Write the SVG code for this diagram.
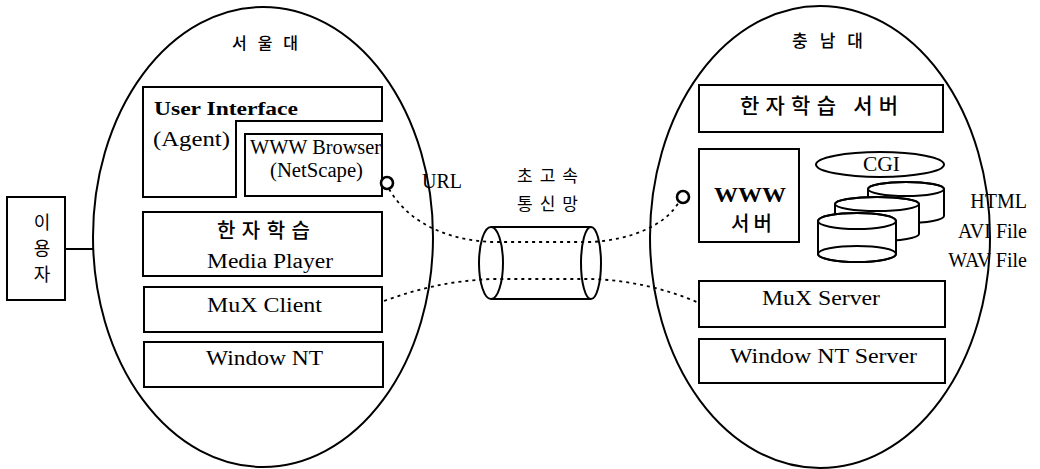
<svg xmlns="http://www.w3.org/2000/svg" width="1040" height="469" viewBox="0 0 1040 469">
<style>
.ln{fill:none;stroke:#000;stroke-width:2}
.bx{fill:#fff;stroke:#000;stroke-width:2}
.dot{fill:none;stroke:#000;stroke-width:1.8;stroke-dasharray:3 4}
.port{fill:#fff;stroke:#000;stroke-width:2.6}
.en{font-family:"Liberation Serif","Times New Roman",serif;font-size:20px;fill:#000}
.enb{font-family:"Liberation Serif","Times New Roman",serif;font-weight:bold;fill:#000}
.ko{font-family:"Noto Sans CJK KR","Noto Sans",sans-serif;font-weight:500;fill:#000}
.kol{font-family:"Noto Sans CJK KR","Noto Sans",sans-serif;font-weight:400;fill:#000}
</style>
<rect width="1040" height="469" fill="#fff"/>

<g id="seoul">
<ellipse class="ln" cx="263" cy="237" rx="170" ry="230"/>
<text class="ko" x="232" y="49" font-size="16" textLength="66" lengthAdjust="spacing">서울대</text>
</g>

<g id="chungnam">
<ellipse class="ln" cx="820" cy="237" rx="170" ry="231"/>
<text class="ko" x="792" y="47" font-size="17" textLength="71" lengthAdjust="spacing">충남대</text>
</g>

<g id="user">
<rect class="bx" x="7" y="197" width="58" height="103"/>
<text class="kol" font-size="18" text-anchor="middle"><tspan x="42" y="229">이</tspan><tspan x="42" y="255">용</tspan><tspan x="42" y="281">자</tspan></text>
<line class="ln" x1="65" y1="249" x2="93" y2="249"/>
</g>

<g id="connectors">
<path class="dot" d="M389,189 C410,225 450,240 491,242 L591,242 C630,240 665,226 679,202"/>
<path class="dot" d="M384,301 C420,288 450,281 491,279 L591,279 C630,280 670,290 699,303"/>
</g>

<g id="user-interface">
<path class="bx" d="M143,87 H382 V121 H236 V197 H143 Z"/>
<text class="enb" x="154" y="115" font-size="19" textLength="144" lengthAdjust="spacingAndGlyphs">User Interface</text>
<text class="en" x="153" y="146" textLength="77" lengthAdjust="spacingAndGlyphs">(Agent)</text>
</g>

<g id="www-browser">
<rect class="bx" x="245" y="134" width="137" height="62"/>
<text class="en" x="250" y="154" textLength="131" lengthAdjust="spacingAndGlyphs">WWW Browser</text>
<text class="en" x="270" y="177" textLength="93" lengthAdjust="spacingAndGlyphs">(NetScape)</text>
<circle class="port" cx="387" cy="183" r="6"/>
<text class="en" x="422" y="188" textLength="40" lengthAdjust="spacingAndGlyphs">URL</text>
</g>

<g id="media-player">
<rect class="bx" x="143" y="212" width="239" height="64"/>
<text class="ko" x="217" y="238" font-size="20" textLength="93" lengthAdjust="spacing">한자학습</text>
<text class="en" x="207" y="268" textLength="126" lengthAdjust="spacingAndGlyphs">Media Player</text>
</g>

<g id="mux-client">
<rect class="bx" x="144" y="287" width="238" height="45"/>
<text class="en" x="207" y="312" textLength="115" lengthAdjust="spacingAndGlyphs">MuX Client</text>
</g>

<g id="window-nt">
<rect class="bx" x="144" y="342" width="239" height="45"/>
<text class="en" x="206" y="365" textLength="117" lengthAdjust="spacingAndGlyphs">Window NT</text>
</g>

<g id="network">
<line class="ln" x1="491" y1="227" x2="591" y2="227"/>
<line class="ln" x1="491" y1="299" x2="591" y2="299"/>
<ellipse class="ln" cx="491" cy="263" rx="12" ry="36"/>
<ellipse class="ln" cx="591" cy="263" rx="10" ry="36"/>
<text class="kol" x="517" y="182" font-size="17" textLength="61" lengthAdjust="spacing">초고속</text>
<text class="kol" x="517" y="210" font-size="17" textLength="61" lengthAdjust="spacing">통신망</text>
</g>

<g id="hanja-server">
<rect class="bx" x="699" y="85" width="244" height="47"/>
<text class="ko" x="740" y="113" font-size="21" textLength="158" lengthAdjust="spacing">한자학습 서버</text>
</g>

<g id="www-server">
<rect class="bx" x="699" y="149" width="100" height="93"/>
<text class="enb" x="714" y="202" font-size="22" textLength="72" lengthAdjust="spacingAndGlyphs">WWW</text>
<text class="ko" x="731" y="231" font-size="20" textLength="41" lengthAdjust="spacing">서버</text>
<circle class="port" cx="683" cy="197" r="6"/>
</g>

<g id="cgi">
<ellipse class="ln" cx="880" cy="164.5" rx="64" ry="12.5"/>
<text class="en" x="863" y="171" font-size="18" textLength="37" lengthAdjust="spacingAndGlyphs">CGI</text>
</g>

<g id="files">
<path class="bx" d="M868,189 V216 A38,7 0 0 0 944,216 V189 A38,7 0 0 0 868,189 Z"/>
<ellipse class="ln" cx="906" cy="189" rx="38" ry="7"/>
<path class="bx" d="M835,204 V234 A42,7 0 0 0 919,234 V204 A42,7 0 0 0 835,204 Z"/>
<ellipse class="ln" cx="877" cy="204" rx="42" ry="7"/>
<path class="bx" d="M818,221 V254 A39,8 0 0 0 896,254 V221 A39,8 0 0 0 818,221 Z"/>
<ellipse class="ln" cx="857" cy="221" rx="39" ry="8"/>
<ellipse class="ln" cx="857" cy="254" rx="39" ry="8"/>
<text class="en" x="1027" y="208" text-anchor="end">HTML</text>
<text class="en" x="1027" y="238" text-anchor="end">AVI File</text>
<text class="en" x="1027" y="267" text-anchor="end">WAV File</text>
</g>

<g id="mux-server">
<rect class="bx" x="699" y="281" width="246" height="46"/>
<text class="en" x="762" y="305" textLength="118" lengthAdjust="spacingAndGlyphs">MuX Server</text>
</g>

<g id="window-nt-server">
<rect class="bx" x="699" y="339" width="246" height="44"/>
<text class="en" x="730" y="363" textLength="187" lengthAdjust="spacingAndGlyphs">Window NT Server</text>
</g>
</svg>
